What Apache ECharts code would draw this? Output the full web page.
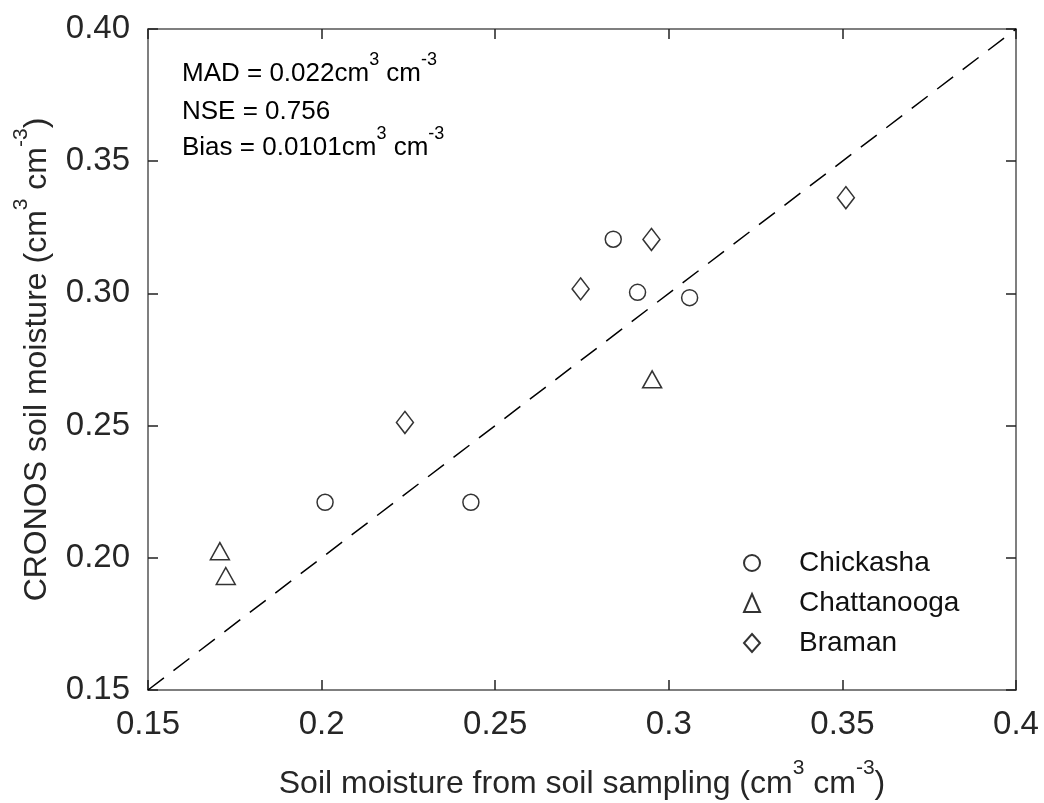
<!DOCTYPE html>
<html>
<head>
<meta charset="utf-8">
<script src="https://cdn.jsdelivr.net/npm/echarts@6/dist/echarts.min.js"></script>
<style>
  html, body { margin: 0; padding: 0; background: #fff; }
  #chart { width: 1044px; height: 803px; }
</style>
</head>
<body>
<div id="chart"></div>
<script>
// soil sampling (x) vs CRONOS (y), cm3 cm-3
const chickashaX = [0.201, 0.243, 0.284, 0.291, 0.306]
const chickashaY = [0.221, 0.221, 0.3205, 0.3004, 0.2984]
const chattanoogaX = [0.1707, 0.1724, 0.2952]
const chattanoogaY = [0.2025, 0.1931, 0.2675]
const bramanX = [0.224, 0.2746, 0.295, 0.351]
const bramanY = [0.2512, 0.3017, 0.3204, 0.3362]
const oneToOne = [[0.15, 0.15], [0.4, 0.4]]

const xTickLabels = ['0.15', '0.2', '0.25', '0.3', '0.35', '0.4']
const yTickLabels = ['0.15', '0.20', '0.25', '0.30', '0.35', '0.40']
const statLines = [
  ['MAD = 0.022cm', '3', ' cm', '-3'],
  ['NSE = 0.756'],
  ['Bias = 0.0101cm', '3', ' cm', '-3']
]

const FONT = "'Liberation Sans', Arial, sans-serif"
const TXT = '#262626'

const pairs = (xs, ys) => xs.map((x, i) => [x, ys[i]])

const supRich = (size, supSize) => ({
  a: { fontSize: size, fontFamily: FONT, color: TXT, lineHeight: size + 10, verticalAlign: 'bottom' },
  s: { fontSize: supSize, fontFamily: FONT, color: TXT, verticalAlign: 'top', lineHeight: supSize }
})

const markerStyle = {
  color: 'rgba(255,255,255,0)',
  borderColor: '#000',
  borderWidth: 1.5
}

const chart = echarts.init(document.getElementById('chart'))

const axisCommon = {
  type: 'value',
  min: 0.15,
  max: 0.4,
  interval: 0.05,
  splitLine: { show: false },
  axisLine: { show: true, lineStyle: { color: '#555', width: 1.5 } },
  axisTick: { show: true, inside: true, length: 10, lineStyle: { color: '#222', width: 1.5 } }
}

// top of each stat line (NSE has no superscript, so its box sits lower)
const statTop = [51, 99, 125]

const option = {
  animation: false,
  backgroundColor: '#fff',
  grid: { left: 148, right: 28, top: 29, bottom: 113, outerBoundsMode: 'none' },
  xAxis: [
    {
      ...axisCommon,
      position: 'bottom',
      name: '{a|Soil moisture from soil sampling (cm}{s|3}{a| cm}{s|-3}{a|)}',
      nameLocation: 'middle',
      nameGap: 68,
      nameTextStyle: { rich: supRich(32, 21) },
      axisLabel: {
        margin: 18,
        fontSize: 33,
        fontFamily: FONT,
        color: TXT,
        formatter: (v, i) => xTickLabels[i]
      }
    },
    {
      ...axisCommon,
      position: 'top',
      axisLabel: { show: false }
    }
  ],
  yAxis: [
    {
      ...axisCommon,
      position: 'left',
      name: '{a|CRONOS soil moisture (cm}{s|3}{a| cm}{s|-3}{a|)}',
      nameLocation: 'middle',
      nameRotate: 90,
      nameGap: 95,
      nameTextStyle: { rich: supRich(32, 21) },
      axisLabel: {
        margin: 18,
        fontSize: 33,
        fontFamily: FONT,
        color: TXT,
        formatter: (v, i) => yTickLabels[i]
      }
    },
    {
      ...axisCommon,
      position: 'right',
      axisLabel: { show: false }
    }
  ],
  legend: {
    orient: 'vertical',
    left: 738,
    top: 544,
    itemWidth: 16,
    itemHeight: 18,
    itemGap: 12,
    textStyle: { fontSize: 28, fontFamily: FONT, color: '#111', padding: [0, 0, 0, 34] },
    data: ['Chickasha', 'Chattanooga', 'Braman']
  },
  graphic: statLines.map((parts, i) => ({
    type: 'text',
    left: 182,
    top: statTop[i],
    style: {
      text: parts.map((p, k) => (k % 2 ? '{s|' + p + '}' : '{a|' + p + '}')).join(''),
      rich: supRich(26, 18)
    }
  })),
  series: [
    {
      name: '1:1',
      type: 'line',
      data: oneToOne,
      symbol: 'none',
      silent: true,
      lineStyle: { color: '#000', width: 1.5, type: [20, 12] }
    },
    {
      name: 'Chickasha',
      type: 'scatter',
      symbol: 'circle',
      symbolSize: 16,
      itemStyle: markerStyle,
      data: pairs(chickashaX, chickashaY)
    },
    {
      name: 'Chattanooga',
      type: 'scatter',
      symbol: 'triangle',
      symbolSize: [19, 17],
      itemStyle: markerStyle,
      data: pairs(chattanoogaX, chattanoogaY)
    },
    {
      name: 'Braman',
      type: 'scatter',
      symbol: 'diamond',
      symbolSize: [17, 22],
      itemStyle: markerStyle,
      data: pairs(bramanX, bramanY)
    }
  ]
}

chart.setOption(option)
</script>
</body>
</html>
